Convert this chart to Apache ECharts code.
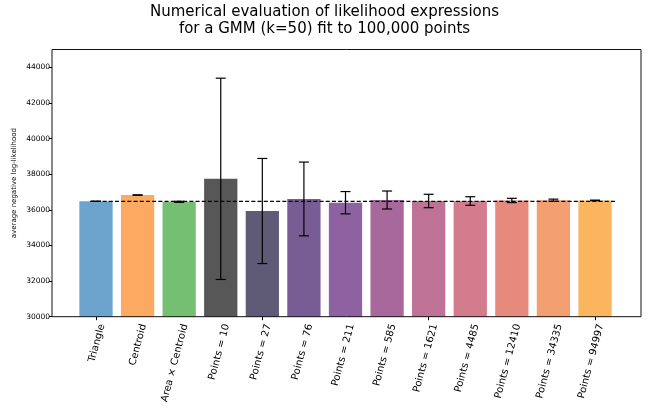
<!DOCTYPE html>
<html>
<head>
<meta charset="utf-8">
<script src="https://cdn.jsdelivr.net/npm/echarts@6/dist/echarts.min.js"></script>
<style>html,body{margin:0;padding:0;background:#fff;}#c{width:649px;height:406px;}</style>
</head>
<body>
<div id="c"></div>
<script>
const categories = ['Triangle', 'Centroid', 'Area \u00d7 Centroid', 'Points = 10', 'Points = 27', 'Points = 76', 'Points = 211', 'Points = 585', 'Points = 1621', 'Points = 4485', 'Points = 12410', 'Points = 34335', 'Points = 94997'];
const means = [36478, 36831, 36450, 37740, 35933, 36610, 36399, 36551, 36495, 36495, 36525, 36540, 36530];
const errors = [5, 10, 30, 5650, 2950, 2070, 626, 505, 376, 240, 120, 60, 15];
const referenceValue = 36478;
const referenceSpan = [-0.14, 12.48];
const yTicks = { min: 30000, max: 45000, interval: 2000 };
const barColors = ['#6CA4CE', '#FCA962', '#74BF72', '#575757', '#5F5B77', '#775D93', '#8E62A0', '#A7699B', '#BD7296', '#D37C8D', '#E68A7D', '#F39F72', '#FBB55E'];

const FONT = 'DejaVu Sans';
const chart = echarts.init(document.getElementById('c'), null, { renderer: 'canvas' });

const gTop = 49.5, gBottom = 89.3;
chart.setOption({
  animation: false,
  backgroundColor: '#fff',
  textStyle: { fontFamily: FONT },
  title: {
    text: 'Numerical evaluation of likelihood expressions\nfor a GMM (k=50) fit to 100,000 points',
    left: 'center', top: -1,
    textStyle: { fontFamily: FONT, fontSize: 15, fontWeight: 'normal', color: '#000', lineHeight: 17 }
  },
  grid: [
    { left: 52, right: 8, top: gTop, bottom: gBottom, show: true, borderColor: '#111', borderWidth: 1, backgroundColor: 'transparent', z: 10 },
    { left: 75.2, right: 33.2, top: gTop, bottom: gBottom },
    { left: 81.2, right: 27.2, top: gTop, bottom: gBottom }
  ],
  xAxis: [
    { gridIndex: 0, type: 'value', min: 0, max: 1, show: false },
    { gridIndex: 1, type: 'category', data: categories,
      axisLine: { show: false },
      axisTick: { show: true, alignWithLabel: true, length: 3.5, lineStyle: { color: '#000', width: 1 } },
      axisLabel: { show: false }, splitLine: { show: false } },
    { gridIndex: 2, type: 'category', data: categories,
      axisLine: { show: false }, axisTick: { show: false },
      axisLabel: { show: true, rotate: 75, interval: 0, margin: 8, fontFamily: FONT, fontSize: 10, color: '#000' } },
    { gridIndex: 1, type: 'value', min: -0.5, max: 12.5, show: false }
  ],
  yAxis: [
    { gridIndex: 0, type: 'value', min: yTicks.min, max: yTicks.max, interval: yTicks.interval,
      name: 'average negative log-likelihood', nameLocation: 'middle', nameGap: 34, nameMoveOverlap: false,
      nameTextStyle: { fontFamily: FONT, fontSize: 7, color: '#000' },
      axisLine: { show: false },
      axisTick: { show: true, length: 3, lineStyle: { color: '#000' } },
      axisLabel: { fontFamily: FONT, fontSize: 7.5, color: '#000', margin: 2, showMaxLabel: false, formatter: v => String(v) },
      splitLine: { show: false } },
    { gridIndex: 1, type: 'value', min: yTicks.min, max: yTicks.max, show: false },
    { gridIndex: 2, type: 'value', min: yTicks.min, max: yTicks.max, show: false }
  ],
  series: [
    { type: 'bar', xAxisIndex: 1, yAxisIndex: 1, barWidth: '80%',
      data: means.map((v, i) => ({ value: v, itemStyle: { color: barColors[i] } })) },
    { type: 'line', xAxisIndex: 3, yAxisIndex: 1, symbol: 'none', z: 5,
      lineStyle: { color: '#000', width: 1.2, type: [4, 2.2] },
      data: referenceSpan.map(x => [x, referenceValue]) },
    { type: 'custom', xAxisIndex: 1, yAxisIndex: 1, z: 6,
      data: means.map((v, i) => [i, v, errors[i]]),
      renderItem: function (params, api) {
        const i = api.value(0), m = api.value(1), e = api.value(2);
        const t = api.coord([i, m + e]);
        const b = api.coord([i, m - e]);
        const h = 5;
        const st = { stroke: '#000', lineWidth: 1.2 };
        return { type: 'group', children: [
          { type: 'line', shape: { x1: t[0], y1: t[1], x2: b[0], y2: b[1] }, style: st },
          { type: 'line', shape: { x1: t[0] - h, y1: t[1], x2: t[0] + h, y2: t[1] }, style: st },
          { type: 'line', shape: { x1: b[0] - h, y1: b[1], x2: b[0] + h, y2: b[1] }, style: st }
        ] };
      } }
  ]
});
</script>
</body>
</html>
